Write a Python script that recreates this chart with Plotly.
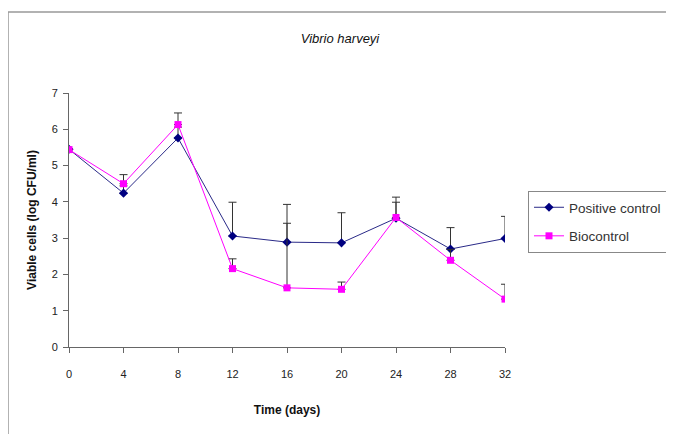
import plotly.graph_objects as go

days = [0, 4, 8, 12, 16, 20, 24, 28, 32]
positive_control = [5.45, 4.24, 5.76, 3.06, 2.89, 2.87, 3.55, 2.70, 2.99]
positive_err = [0.0, 0.2, 0.3, 0.93, 1.04, 0.83, 0.58, 0.59, 0.61]
biocontrol = [5.44, 4.50, 6.13, 2.16, 1.63, 1.59, 3.57, 2.39, 1.32]
biocontrol_err = [0.0, 0.25, 0.32, 0.27, 1.78, 0.20, 0.42, 0.30, 0.41]
x_ticks = [0, 4, 8, 12, 16, 20, 24, 28, 32]
y_ticks = [0, 1, 2, 3, 4, 5, 6, 7]

W, H = 674, 434
OFF = 8  # page body offset
L, R, T, B = 69 - OFF, 505 - OFF, 93 - OFF, 347 - OFF
pw, ph = R - L, B - T

fig = go.Figure()
fig.add_trace(go.Scatter(
    x=days, y=positive_control, name="Positive control", mode="lines+markers",
    legendgroup="a",
    line=dict(color="#2a2a88", width=1),
    marker=dict(symbol="diamond", size=7, color="#000080"),
    error_y=dict(type="data", array=positive_err, arrayminus=[0]*len(days), symmetric=False,
                 color="#333333", thickness=1, width=4),
))
fig.add_trace(go.Scatter(
    x=days, y=biocontrol, name="Biocontrol", mode="lines+markers",
    legendgroup="b",
    line=dict(color="#ff00ff", width=1),
    marker=dict(symbol="square", size=7, color="#ff00ff"),
    error_y=dict(type="data", array=biocontrol_err, arrayminus=[0]*len(days), symmetric=False,
                 color="#333333", thickness=1, width=4),
))

font = "Liberation Sans, Arial, sans-serif"
fig.update_layout(
    width=W, height=H,
    margin=dict(l=L, r=W - R, t=T, b=H - B, pad=0),
    paper_bgcolor="white", plot_bgcolor="white",
    font=dict(family=font, size=11, color="#222"),
    title=dict(text="<i>Vibrio harveyi</i>", x=(340 - OFF) / W, xanchor="center",
               y=1 - (38 - OFF) / H, yanchor="middle", font=dict(size=13, color="#111")),
    xaxis=dict(range=[0, 32], tickvals=x_ticks, ticks="outside", ticklen=5, tickcolor="#666",
               showline=True, linecolor="#666", linewidth=1, showgrid=False, zeroline=False,
               ticklabelstandoff=12,
               title=dict(text="<b>Time (days)</b>", font=dict(size=12, color="#111"), standoff=26)),
    yaxis=dict(range=[0, 7], tickvals=y_ticks, ticks="outside", ticklen=5, tickcolor="#666",
               showline=True, linecolor="#666", linewidth=1, showgrid=False, zeroline=False,
               ticklabelstandoff=3,
               title=dict(text="<b>Viable cells (log CFU/ml)</b>", font=dict(size=12, color="#111"), standoff=12)),
    legend=dict(x=(528 - OFF - L) / pw, y=(B - (191 - OFF)) / ph, xanchor="left", yanchor="top",
                bordercolor="#888", borderwidth=1, bgcolor="white",
                font=dict(size=13.5, color="#333"), tracegroupgap=8),
    shapes=[dict(type="rect", xref="paper", yref="paper",
                 x0=(0 - L) / pw, x1=(690 - L) / pw,
                 y0=(B - 460) / ph, y1=(B - 4) / ph,
                 line=dict(color="#999", width=1.5), fillcolor="rgba(0,0,0,0)", layer="below")],
)

fig.write_html("out.html")
